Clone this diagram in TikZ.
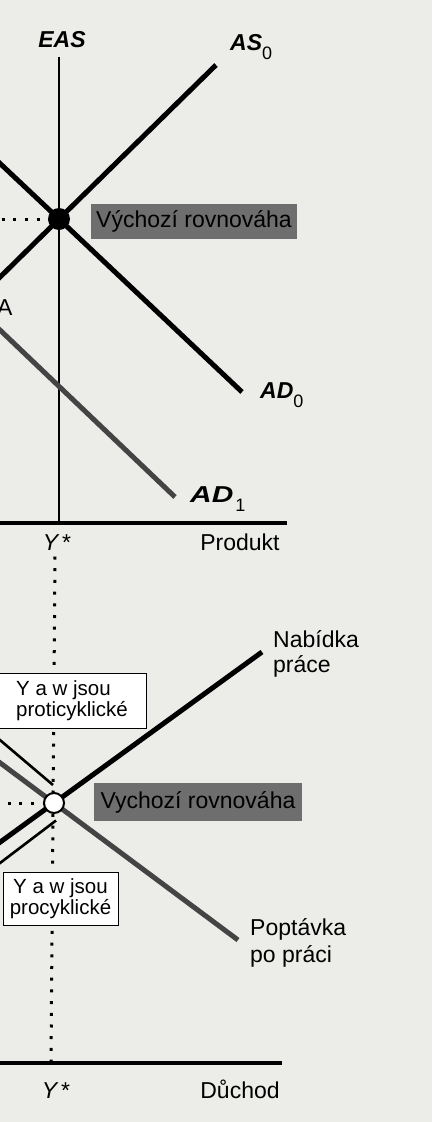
\documentclass[tikz,border=0pt]{standalone}
\usepackage{graphicx}
\usepackage{fontspec}
\setmainfont{Liberation Sans}
\definecolor{paper}{RGB}{236,236,233}
\definecolor{boxgray}{RGB}{110,110,110}
\definecolor{curvegray}{RGB}{68,68,68}
\newcommand{\curvelab}[2]{{\bfseries\itshape #1}\raisebox{-9pt}{\fontsize{18}{18}\selectfont #2}}

\begin{document}
\begin{tikzpicture}[x={(1pt,0pt)},y={(0pt,-1pt)},
  thickline/.style={line width=5pt},
  grayline/.style={line width=5pt,color=curvegray},
  thinline/.style={line width=2.6pt},
  axisline/.style={line width=3.5pt},
  dotline/.style={line width=3pt,dash pattern=on 3pt off 8.7pt},
  darkbox/.style={fill=boxgray,inner sep=0pt,font=\fontsize{23}{23}\selectfont},
  whitebox/.style={draw,line width=1pt,fill=white,inner sep=0pt,font=\fontsize{20.5}{21}\selectfont},
  lab/.style={inner sep=0pt,font=\fontsize{23}{25}\selectfont}]
%================================================================
%	Paper
\fill[paper] (0,0) rectangle (432,1122);
\useasboundingbox (0,0) rectangle (432,1122);
\coordinate (E0) at (59,219);
\coordinate (E1) at (54,803);

%================================================================
%	Upper panel: product market
\draw[dotline] (1.5,219) -- (E0);
\draw[line width=2.5pt] (59,57) -- (E0) -- (59,523);
%----------------------------------------------------------------
\draw[thickline] (216,65) -- (E0) -- (-10,287);
\draw[thickline] (-10,154) -- (E0) -- (242,392);
\draw[grayline] (-10,320.5) -- (175,497);
\draw[axisline] (-5,523) -- (287,523);
%----------------------------------------------------------------
\fill (E0) circle[radius=11pt];
\node[darkbox, minimum width=206pt, minimum height=35pt] (eq0box) at (194,221.5) {Výchozí rovnováha};
%----------------------------------------------------------------
\node[lab, anchor=base] (eas) at (62,47) {\bfseries\itshape EAS};
\node[lab, anchor=base west] (as0) at (230,50) {\curvelab{AS}{0}};
\node[lab, anchor=base west] (ad0) at (260,398) {\curvelab{AD}{0}};
\node[lab, anchor=base west] (ad1) at (190,502) {\curvelab{\scalebox{1.3}[1]{AD}}{\hspace{2pt}1}};
\node[lab, anchor=base west] (cut) at (-3,315) {A};
\node[lab, anchor=base] (ystar0) at (57,550) {\itshape Y\,\upshape*};
\node[lab, anchor=base] (prod) at (240,550) {Produkt};

%================================================================
%	Lower panel: labour market
\draw[dotline] (55,556.5) -- (51,1062);
\draw[dotline] (7.5,803) -- (E1);
%----------------------------------------------------------------
\draw[thickline] (262,652) -- (E1) -- (-10,849.5);
\draw[grayline] (-10,755.3) -- (E1) -- (238,940);
\draw[thinline] (-3,737.5) -- (53,785);
\draw[thinline] (-3,865.3) -- (56,820.5);
\draw[axisline] (-5,1063) -- (282,1063);
%----------------------------------------------------------------
\filldraw[fill=white, line width=2pt] (E1) circle[radius=10pt];
\node[darkbox, minimum width=208pt, minimum height=38pt] (eq1box) at (198,802) {Vychozí rovnováha};
\node[whitebox, minimum width=148pt, minimum height=55pt, align=left] (anti) at (72,700.5) {Y a w jsou\\proticyklické};
\node[whitebox, minimum width=115pt, minimum height=53pt, align=center] (pro) at (60.5,898.5) {Y a w jsou\\procyklické};
%----------------------------------------------------------------
\node[lab, anchor=base west] (nab1) at (273,647) {Nabídka};
\node[lab, anchor=base west] (nab2) at (273,672) {práce};
\node[lab, anchor=base west] (pop1) at (250,935) {Poptávka};
\node[lab, anchor=base west] (pop2) at (250,962) {po práci};
\node[lab, anchor=base] (ystar1) at (56,1098) {\itshape Y\,\upshape*};
\node[lab, anchor=base] (duch) at (240,1098) {Důchod};
%================================================================
\end{tikzpicture}
\end{document}
